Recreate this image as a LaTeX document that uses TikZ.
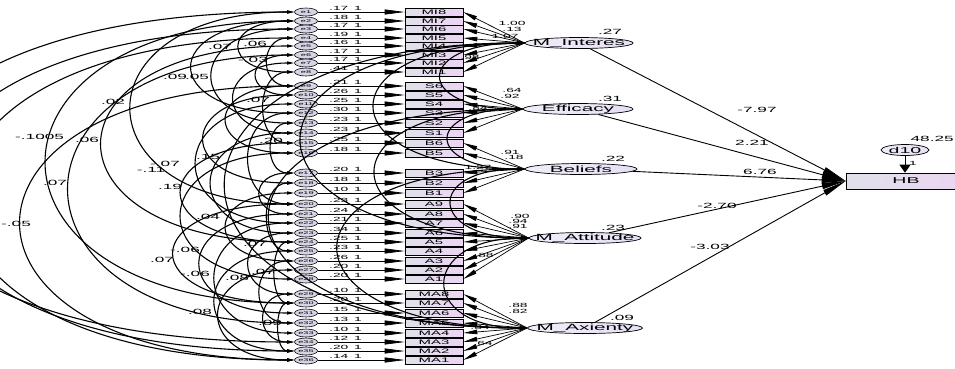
\documentclass[tikz,border=0pt]{standalone}
\usepackage{fontspec}
\setmainfont{Liberation Sans}[FakeStretch=2.3]
\usetikzlibrary{arrows.meta,shapes.geometric}
\definecolor{boxL}{HTML}{E1E0EA}
\definecolor{boxR}{HTML}{EBD5F3}
\definecolor{latfill}{HTML}{E7E0F5}
\definecolor{errfill}{HTML}{D8D4E6}
\tikzset{
  ind/.style={draw=black,line width=0.6pt,left color=boxL,right color=boxR,minimum width=58pt,minimum height=8pt,inner sep=0pt,font=\fontsize{6.5}{7}\selectfont},
  err/.style={ellipse,draw=black,line width=0.6pt,fill=errfill,minimum width=23pt,minimum height=8pt,inner sep=0pt,font=\fontsize{4}{4}\selectfont},
  latE/.style={ellipse,draw=black,line width=0.7pt,left color=latfill!60!white,right color=latfill,minimum height=11pt,inner sep=0pt},
  ltxt/.style={inner sep=0pt,font=\fontsize{9}{10}\selectfont},
  num/.style={inner sep=0pt,font=\fontsize{7.5}{8}\selectfont},
  sm/.style={inner sep=0pt,font=\fontsize{6}{6}\selectfont},
  erra/.style={line width=0.7pt,-{Triangle[length=20pt,width=5pt]}},
  load/.style={line width=0.7pt,-{Triangle[length=14pt,width=4.5pt]}},
  cov/.style={line width=1.1pt,{Triangle[length=7pt,width=3pt]}-{Triangle[length=7pt,width=3pt]}},
  struct/.style={line width=0.9pt,-{Triangle[length=24pt,width=6pt]}},
}
\begin{document}
\begin{tikzpicture}[x=1pt,y=-1pt]
\useasboundingbox (0,0) rectangle (955,368);
\clip (0,0) rectangle (955,368);
% latent variables
\foreach \k/\x/\y/\w/\t in {1/579/43/108/M\_Interes,2/578/109/110/Efficacy,3/581/169/112/Beliefs,4/585/238/112/M\_Attitude,5/585/328/115/M\_Axienty}{
  \node[latE,minimum width=\w pt] (L\k) at (\x,\y) {};
  \node[ltxt] (L\k t) at (\x,\y) {\t};
}
% outcome
\node[draw=black,line width=0.6pt,left color=boxL,right color=boxR,minimum width=120pt,minimum height=16pt,inner sep=0pt,font=\fontsize{8.5}{9}\selectfont] (HB) at (906,181) {HB};
\node[latE,minimum width=48pt] (d10) at (905,150) {};
\node[ltxt,font=\fontsize{8.5}{9}\selectfont] (d10t) at (905,150) {d10};
\draw[line width=0.9pt,-{Triangle[length=8pt,width=11pt]}] (d10.south) -- (d10.south |- HB.north);
\node[sm] (d10one) at (913,163) {1};
\node[num,anchor=east] (HBvar) at (954,139) {48.25};
% indicators and error terms
\foreach \n/\y/\v/\g [count=\i] in {MI8/12/.17/1,MI7/21/.18/1,MI6/29/.17/1,MI5/38/.19/1,MI4/46/.16/1,MI3/55/.17/1,MI2/63/.17/1,MI1/72/.41/1,
  S6/86/.21/2,S5/95/.26/2,S4/104/.25/2,S3/113/.30/2,S2/123/.23/2,S1/133/.23/2,
  B6/143/.25/3,B5/153/.18/3,B3/173/.20/3,B2/183/.18/3,B1/193/.10/3,
  A9/204/.23/4,A8/214/.24/4,A7/223/.21/4,A6/233/.34/4,A5/242/.25/4,A4/251/.23/4,A3/261/.26/4,A2/270/.20/4,A1/279/.20/4,
  MA8/294/.10/5,MA7/303/.20/5,MA6/313/.15/5,MA5/323/.13/5,MA4/333/.10/5,MA3/342/.12/5,MA2/351/.20/5,MA1/360/.14/5}{
  \node[ind] (i\i) at (434,\y) {\n};
  \node[err] (e\i) at (306,\y) {e\i};
  \node[sm,anchor=west] (v\i) at (329,\y-4) {\v};
  \node[sm] (o\i) at (358,\y-4) {1};
  \draw[erra] (e\i) -- (i\i);
  \draw[load] (L\g.west) -- (i\i.east);
}
% structural paths
\foreach \k in {1,...,5}{\draw[struct] (L\k) -- (HB.west);}
\node[num] (p1) at (757,110) {-7.97};
\node[num] (p2) at (752,143) {2.21};
\node[num] (p3) at (760,172) {6.76};
\node[num] (p4) at (717,206) {-2.70};
\node[num] (p5) at (710,247) {-3.03};
% latent variances
\node[num] (r1) at (610,32) {.27};
\node[num] (r2) at (610,99) {.31};
\node[num] (r3) at (613,159) {.22};
\node[num] (r4) at (613,228) {.23};
\node[num] (r5) at (622,318) {.09};
% loadings labels
\foreach \t/\x/\y [count=\j] in {1.00/512/23,.13/512/29,1.07/505/36,.98/470/57,.64/512/90,.92/510/96,.84/478/108,.91/510/152,.18/514/157,1.27/478/167,.90/520/216,.94/518/221,.91/518/226,.88/484/255,.88/518/305,.82/518/311,.84/480/327,.64/483/343}{
  \node[sm] (ll\j) at (\x,\y) {\t};
}
% error covariances
\foreach \a/\b/\d in {2/8/73pt,3/13/109pt,2/12/136pt,1/20/217pt,5/24/256pt,6/32/300pt,2/30/330pt,9/36/364pt,1/34/520pt,3/35/480pt,4/36/440pt,
  6/10/50pt,7/14/80pt,9/16/90pt,10/18/120pt,11/22/130pt,12/20/60pt,14/23/110pt,15/24/150pt,16/28/150pt,19/26/90pt,20/30/160pt,21/31/125pt,
  22/33/105pt,25/35/105pt,27/36/100pt,23/29/60pt,29/34/40pt,13/17/30pt,8/15/40pt,17/21/45pt,4/9/35pt,18/25/35pt,24/30/25pt,30/35/20pt,26/32/45pt}{
  \draw[cov] (e\a.west) to[out=180,in=180,distance=\d] (e\b.west);
}
% latent covariances
\foreach \a/\b/\d in {1/2/110pt,2/3/100pt,3/4/100pt,4/5/110pt,1/3/200pt,2/4/200pt,3/5/250pt,1/4/300pt,2/5/340pt,1/5/400pt}{
  \draw[cov] (L\a.west) to[out=180,in=180,distance=\d] (L\b.west);
}
% covariance labels
\foreach \t/\x/\y [count=\j] in {.07/220/47,.06/255/44,-.03/253/60,.09/175/77,.05/197/77,.07/258/100,.02/113/102,-.10/30/137,.05/52/137,.06/87/140,-.07/165/164,-.11/151/170,.15/208/157,.20/271/141,.07/55/183,.19/170/187,.04/208/217,-.06/185/250,.07/162/260,-.06/195/274,.08/237/278,.08/200/312,.07/255/244,.09/270/323,.07/263/272}{
  \node[num] (cl\j) at (\x,\y) {\t};
}
\node[num,anchor=west] (clx) at (1,224) {-.05};
\end{tikzpicture}
\end{document}
